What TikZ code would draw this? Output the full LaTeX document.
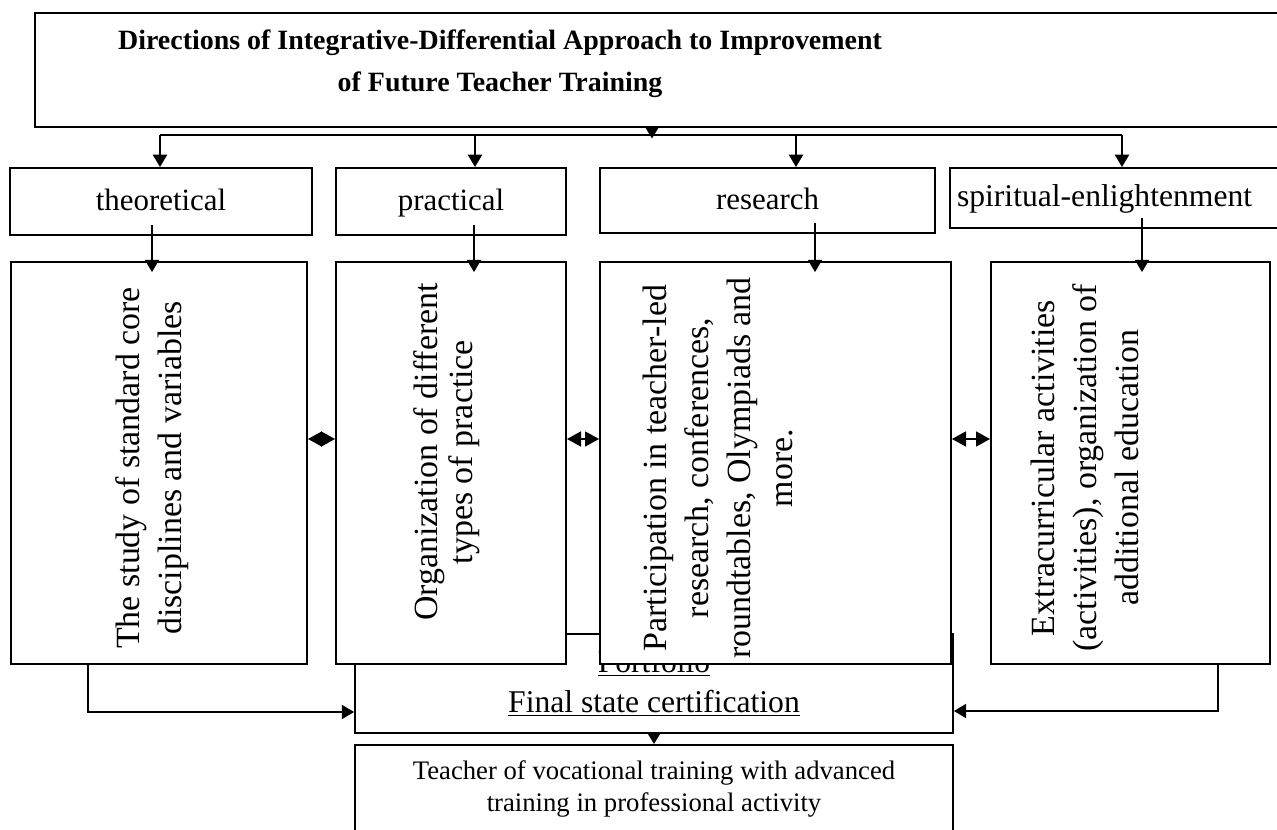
\documentclass[tikz,border=0pt]{standalone}
\usepackage{fontspec}
\setmainfont{Liberation Serif}
\usetikzlibrary{arrows.meta}

\begin{document}
\begin{tikzpicture}[x=0.02cm, y=-0.02cm, line width=1.1pt,
  >={Triangle[length=7pt,width=8pt]},
  box/.style={draw, fill=white, inner sep=0pt},
  lbl/.style={font=\fontsize{17.6}{21}\selectfont, text height=13pt, text depth=3pt},
  vtext/.style={rotate=90, align=center, font=\fontsize{19.3}{23.8}\selectfont},
  dbl/.style={{Triangle[length=8pt,width=8.5pt]}-{Triangle[length=8pt,width=8.5pt]}},
  smalltip/.style={-{Triangle[length=6pt,width=7pt]}}]
\useasboundingbox (0,0) rectangle (1277,830);
\clip (0,0) rectangle (1277,830);

% heading
\node[box, minimum width=25.24cm, minimum height=2.28cm] (dir) at (666,70) {};
\node[align=center, font=\fontsize{15.9}{24}\selectfont\bfseries] (dirtext) at (500,64)
  {Directions of Integrative-Differential Approach to Improvement\\of Future Teacher Training};

% directions
\node[box, lbl, minimum width=6.04cm, minimum height=1.34cm] (theo) at (161,201.5) {theoretical};
\node[box, lbl, minimum width=4.6cm, minimum height=1.34cm] (prac) at (451,201.5) {practical};
\node[box, lbl, minimum width=6.7cm, minimum height=1.3cm] (resr) at (767.5,200.5) {research};
\node[box, lbl, minimum width=6.94cm, minimum height=1.2cm, inner xsep=0.14cm,
  text width=6.66cm, align=left, font=\fontsize{18}{21}\selectfont] (spir) at (1123.5,198) {spiritual-enlightenment};

% final certification (partly under the content boxes)
\node[box, minimum width=11.96cm, minimum height=1.98cm, align=center,
  font=\fontsize{18}{22.7}\selectfont] (portf) at (654,683.5)
  {\underline{Portfolio}\\\underline{Final state certification}};

% contents
\node[box, minimum width=5.92cm, minimum height=8.04cm] (boxA) at (159,463) {};
\node[box, minimum width=4.6cm, minimum height=8.04cm] (boxB) at (451,463) {};
\node[box, minimum width=7.02cm, minimum height=8.04cm] (boxC) at (775.5,463) {};
\node[box, minimum width=5.58cm, minimum height=8.04cm] (boxD) at (1130.5,463) {};

\node[vtext] (txtA) at (152,468) {The study of standard core\\disciplines and variables};
\node[vtext, font=\fontsize{19.3}{19.8}\selectfont] (txtB) at (447,452) {Organization of different\\types of practice};
\node[vtext] (txtC) at (718,468) {Participation in teacher-led\\research, conferences,\\roundtables, Olympiads and\\more.};
\node[vtext] (txtD) at (1085,468) {Extracurricular activities\\(activities), organization of\\additional education};

% result
\node[box, anchor=north, minimum width=11.96cm, minimum height=1.76cm, align=center,
  font=\fontsize{15.2}{18.7}\selectfont] (teach) at (654,744)
  {Teacher of vocational training with advanced\\training in professional activity};

% connectors
\coordinate (bus) at (0,135);
\coordinate (mid) at (0,439);
\coordinate (c0) at (652,0);
\coordinate (c1) at (160,0);
\coordinate (c2) at (475,0);
\coordinate (c3) at (796,0);
\coordinate (c4) at (1122,0);
\coordinate (d1) at (152,0);
\coordinate (d2) at (474,0);
\coordinate (d3) at (815,0);
\coordinate (d4) at (1142,0);
\coordinate (lj) at (88,712);
\coordinate (rj) at (1218,711);

\draw[smalltip, shorten >=-2pt] (dir.south -| c0) -- (c0 |- bus);
\draw (c1 |- bus) -- (c4 |- bus);
\foreach \px/\nd in {c1/theo,c2/prac,c3/resr,c4/spir}
  \draw[->] (\px |- bus) -- (\px |- \nd.north);
\foreach \px/\up/\dn in {d1/theo/boxA,d2/prac/boxB,d3/resr/boxC,d4/spir/boxD}
  \draw[->, shorten <=-0.22cm, shorten >=-0.22cm] (\px |- \up.south) -- (\px |- \dn.north);
\foreach \up/\dn in {boxA/boxB,boxB/boxC,boxC/boxD}
  \draw[dbl] (\up.east |- mid) -- (\dn.west |- mid);
\draw[->] (boxA.south -| lj) |- (portf.west |- lj);
\draw[->] (boxD.south -| rj) |- (portf.east |- rj);
\draw[smalltip] (portf.south) -- (teach.north);
\end{tikzpicture}
\end{document}
